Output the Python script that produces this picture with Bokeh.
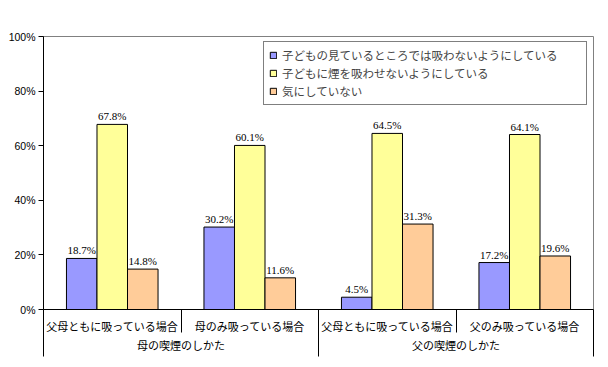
from bokeh.plotting import figure
from bokeh.models import (Range1d, FixedTicker, LinearAxis, ColumnDataSource, LabelSet,
                          Legend, LegendItem)
from bokeh.embed import file_html
from bokeh.resources import INLINE

categories = ["父母ともに吸っている場合", "母のみ吸っている場合", "父母ともに吸っている場合", "父のみ吸っている場合"]
groups = ["母の喫煙のしかた", "父の喫煙のしかた"]
series_names = ["子どもの見ているところでは吸わないようにしている",
                "子どもに煙を吸わせないようにしている",
                "気にしていない"]
blue_vals = [18.7, 30.2, 4.5, 17.2]
yellow_vals = [67.8, 60.1, 64.5, 64.1]
orange_vals = [14.8, 11.6, 31.3, 19.6]
y_ticks = [0, 20, 40, 60, 80, 100]
y_tick_labels = ["0%", "20%", "40%", "60%", "80%", "100%"]

colors = ["#9999FF", "#FFFF99", "#FFCC99"]
FONT = "Noto Sans CJK JP"
NUMFONT = "Liberation Sans"

p = figure(width=600, height=359, output_backend="svg", toolbar_location=None,
           x_range=Range1d(0, 4), y_range=Range1d(0, 100),
           min_border_left=43, min_border_right=7, min_border_top=36, min_border_bottom=50,
           x_axis_location=None)
p.xgrid.visible = False
p.ygrid.visible = False
p.outline_line_color = "#808080"
p.outline_line_width = 1
p.background_fill_color = "white"
p.border_fill_color = "white"

# y axis
p.yaxis.ticker = FixedTicker(ticks=y_ticks)
p.yaxis.major_label_overrides = {t: l for t, l in zip(y_ticks, y_tick_labels)}
p.yaxis.major_tick_in = 0
p.yaxis.major_tick_out = 5
p.yaxis.minor_tick_line_color = None
p.yaxis.major_label_standoff = 3
p.yaxis.major_label_text_font = NUMFONT
p.yaxis.major_label_text_font_size = "10.5px"
p.yaxis.major_label_text_color = "black"
p.yaxis.axis_line_color = "black"
p.yaxis.major_tick_line_color = "black"

# first-level category axis (labels + short dividers as minor ticks)
centers = [i + 0.5 for i in range(len(categories))]
ax1 = LinearAxis(ticker=FixedTicker(ticks=centers, minor_ticks=[0, 1, 2, 3, 4]))
ax1.major_label_overrides = {c: l for c, l in zip(centers, categories)}
ax1.major_tick_in = 0
ax1.major_tick_out = 0
ax1.major_tick_line_color = None
ax1.minor_tick_in = 0
ax1.minor_tick_out = 23
ax1.minor_tick_line_color = "black"
ax1.axis_line_color = "black"
ax1.major_label_standoff = -15
ax1.major_label_text_font = FONT
ax1.major_label_text_font_size = "11px"
ax1.major_label_text_color = "black"
p.add_layout(ax1, "below")

# second-level group axis (labels + long dividers as minor ticks)
gcenters = [1, 3]
ax2 = LinearAxis(ticker=FixedTicker(ticks=gcenters, minor_ticks=[0, 2, 4]))
ax2.major_label_overrides = {c: l for c, l in zip(gcenters, groups)}
ax2.major_tick_in = 0
ax2.major_tick_out = 0
ax2.major_tick_line_color = None
ax2.minor_tick_in = 15
ax2.minor_tick_out = 20
ax2.minor_tick_line_color = "black"
ax2.axis_line_color = None
ax2.major_label_standoff = -20
ax2.major_label_text_font = FONT
ax2.major_label_text_font_size = "11px"
ax2.major_label_text_color = "black"
p.add_layout(ax2, "below")

w = 0.222
offsets = [-w, 0, w]
all_vals = [blue_vals, yellow_vals, orange_vals]
items = []
for k, (vals, col, name) in enumerate(zip(all_vals, colors, series_names)):
    xs = [c + offsets[k] for c in centers]
    src = ColumnDataSource(dict(x=xs, top=vals, lab=[f"{v:.1f}%" for v in vals]))
    r = p.vbar(x="x", top="top", width=w, bottom=0, source=src,
               fill_color=col, line_color="black", line_width=1)
    items.append(LegendItem(label=name, renderers=[r]))
    p.add_layout(LabelSet(x="x", y="top", text="lab", source=src, y_offset=2,
                          text_align="center", text_baseline="bottom",
                          text_font=NUMFONT, text_font_size="11px", text_color="black"))

legend = Legend(items=items, location=(220, 204))
legend.border_line_color = "black"
legend.border_line_width = 1
legend.background_fill_color = "white"
legend.background_fill_alpha = 1
legend.label_text_font = FONT
legend.label_text_font_size = "11.5px"
legend.label_width = 299
legend.glyph_width = 8
legend.glyph_height = 8
legend.label_height = 15
legend.label_standoff = 5
legend.spacing = 2
legend.padding = 5
legend.margin = 0
p.add_layout(legend, "center")

open("out.html", "w").write(file_html(p, INLINE))
